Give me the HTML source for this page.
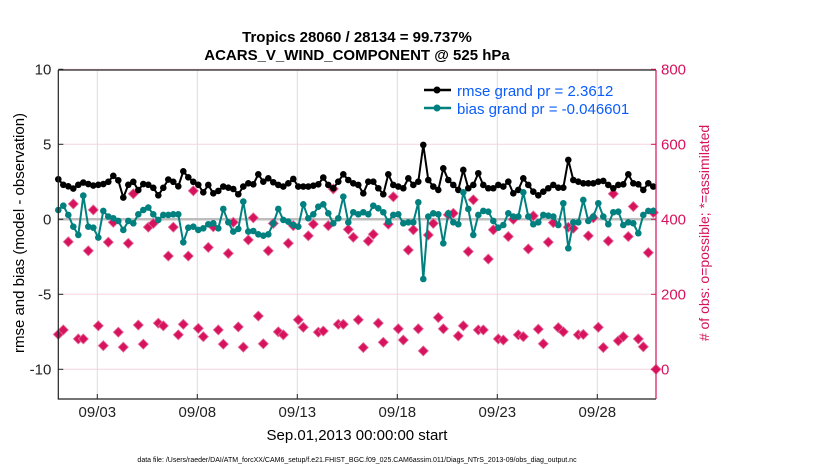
<!DOCTYPE html>
<html><head><meta charset="utf-8">
<style>
body{margin:0;background:#fff;}
svg text{font-family:"Liberation Sans",Arial,sans-serif;}
</style></head>
<body>
<svg id="chart" width="830" height="470" viewBox="0 0 830 470" xmlns="http://www.w3.org/2000/svg">
<rect x="0" y="0" width="830" height="470" fill="#fff"/>
<text x="357" y="42" text-anchor="middle" font-size="15" font-weight="bold">Tropics 28060 / 28134 = 99.737%</text>
<text x="357" y="60" text-anchor="middle" font-size="15" font-weight="bold">ACARS_V_WIND_COMPONENT @ 525 hPa</text>
<g id="grid"></g>
<g id="series"></g>
<g id="axes"></g>
<text transform="translate(24,233) rotate(-90)" text-anchor="middle" font-size="15">rmse and bias (model - observation)</text>
<text transform="translate(709,233) rotate(-90)" text-anchor="middle" font-size="14" fill="#d6135c"># of obs: o=possible; *=assimilated</text>
<text x="357" y="440" text-anchor="middle" font-size="15">Sep.01,2013 00:00:00 start</text>
<text x="357" y="462" text-anchor="middle" font-size="7">data file: /Users/raeder/DAI/ATM_forcXX/CAM6_setup/f.e21.FHIST_BGC.f09_025.CAM6assim.011/Diags_NTrS_2013-09/obs_diag_output.nc</text>
<g>
  <line x1="424" y1="90" x2="451" y2="90" stroke="#000" stroke-width="2.5"/>
  <circle cx="437" cy="90" r="3.5" fill="#000"/>
  <text x="457" y="96" font-size="15" fill="#0a5cff">rmse grand pr = 2.3612</text>
  <line x1="424" y1="108" x2="451" y2="108" stroke="#00807f" stroke-width="2.5"/>
  <circle cx="437" cy="108" r="3.5" fill="#00807f"/>
  <text x="457" y="114" font-size="15" fill="#0a5cff">bias grand pr = -0.046601</text>
</g>
</svg>
<script>
const xTickDays=[2,7,12,17,22,27];
const xTickLabels=["09/03","09/08","09/13","09/18","09/23","09/28"];
const leftTicks=[10,5,0,-5,-10];
const rightTicks=[800,600,400,200,0];
const rmse=[2.67,2.3,2.2,2.05,2.3,2.45,2.35,2.25,2.3,2.35,2.5,2.9,2.6,1.45,2.3,2.5,1.95,2.35,2.3,2.1,1.6,2.1,2.65,2.5,2.2,3.2,2.8,2.5,2.3,1.8,
2.29,1.73,1.89,2.18,2.11,2.02,1.67,2.18,2.4,2.33,3.0,2.51,2.73,2.47,2.29,2.18,2.4,2.69,2.18,2.18,2.18,2.24,2.33,2.78,2.29,2.07,2.51,3.0,2.62,2.4,
2.29,1.73,2.51,2.51,2.07,1.67,3.0,2.29,2.18,2.07,2.73,2.29,2.51,4.96,2.62,2.18,1.96,3.4,2.62,2.29,1.96,3.29,2.07,2.29,3.07,2.29,2.07,2.07,2.29,2.18,
2.51,1.73,1.96,2.73,2.29,1.84,1.6,1.84,2.07,2.29,2.11,2.11,3.96,2.62,2.51,2.4,2.4,2.4,2.51,2.56,2.29,2.07,2.29,2.33,3.0,2.4,2.33,1.96,2.4,2.18];
const bias=[0.62,0.91,0.29,-0.49,-1.04,1.58,-0.49,-0.56,-1.22,0.56,0.18,0.07,-0.11,-0.71,-0.11,-0.27,0.33,0.62,0.78,0.33,-0.04,0.29,0.29,0.33,0.33,-1.53,-0.56,-0.49,-0.71,-0.6,
-0.33,-0.27,-0.6,0.69,-0.2,-0.82,-0.64,1.18,-0.82,-0.78,-1.0,-1.09,-1.0,-0.27,0.69,-0.04,-0.16,-0.38,-0.49,1.0,0.07,0.33,0.84,1.0,0.4,-0.27,0.07,1.51,-0.2,0.47,
0.33,0.47,0.33,0.91,0.73,0.47,-0.16,0.29,0.33,-0.27,-0.2,-0.2,1.13,-3.98,0.18,0.4,0.33,-1.6,0.4,-0.2,-0.33,1.8,0.69,-1.04,0.29,0.56,0.51,-0.11,-0.56,-0.38,
0.4,0.18,0.18,1.8,0.18,-0.33,-0.2,0.29,0.24,0.18,-0.38,1.07,-1.93,-0.2,-0.2,1.29,-0.11,0.18,1.07,0.18,-0.33,0.47,0.51,-0.38,-0.2,-0.27,-0.93,0.29,0.56,0.56];
const nobs=[93,105,340,441,81,81,316,425,116,63,339,392,99,59,336,468,118,67,379,389,123,116,302,379,92,120,302,476,109,87,
325,380,105,67,309,392,113,59,345,404,142,68,316,389,100,92,336,383,132,112,356,387,99,102,383,481,120,120,373,352,
132,58,342,360,123,72,387,460,108,78,318,372,108,49,358,389,138,108,412,416,89,116,314,452,105,105,294,372,81,78,
354,400,92,87,321,409,107,68,339,391,111,100,379,376,92,93,356,404,112,58,342,468,76,87,354,434,81,60,311,418,0];

const NS="http://www.w3.org/2000/svg";
const X0=58.3, X1=656, Y0=70, Y1=399;
function xScale(day){return 57.3+20*day;}
function obsDay(i){return i*0.25+0.05;}
function yL(v){return 219.3-15*v;}
function yR(n){return yL(n/40-10);}
function mk(tag,attrs,parent){const e=document.createElementNS(NS,tag);for(const k in attrs)e.setAttribute(k,attrs[k]);parent.appendChild(e);return e;}
const grid=document.getElementById('grid'), axes=document.getElementById('axes'), ser=document.getElementById('series');

// grid
rightTicks.forEach(t=>{const l=mk('line',{x1:X0,x2:X1,y1:yR(t),y2:yR(t),stroke:'#f6d3df','stroke-width':1},grid);

});
xTickDays.forEach(d=>{const l=mk('line',{x1:xScale(d),x2:xScale(d),y1:Y0,y2:Y1,stroke:'#dcdcdc','stroke-width':1},grid);

});
const zl=mk('line',{x1:X0,x2:X1,y1:yL(0),y2:yL(0),stroke:'#bdbdbd','stroke-width':2.5},grid);



// rmse line
function poly(vals,color,name){
  const pts=vals.map((v,i)=>xScale(obsDay(i)).toFixed(1)+','+yL(v).toFixed(1)).join(' ');
  const p=mk('polyline',{points:pts,fill:'none',stroke:color,'stroke-width':2},ser);
  
  
  vals.forEach((v,i)=>{const c=mk('circle',{cx:xScale(obsDay(i)),cy:yL(v),r:3.3,fill:color},ser);
    
    });
}
// obs markers
nobs.forEach((n,i)=>{
  const x=Math.min(xScale(obsDay(i)),X1), y=yR(n);
  const d=`M${x},${y-5} L${x+5},${y} L${x},${y+5} L${x-5},${y} Z`;
  const m=mk('path',{d:d,fill:'#d6135c',stroke:'#e4699a','stroke-width':0.8},ser);
  
  
});
poly(rmse,'#000','rmse');
poly(bias,'#00807f','bias');

// axes
const la=mk('path',{d:`M${X0},${Y0} L${X0},${Y1} L${X1},${Y1} M${X0},${Y0} L${X1},${Y0}`,fill:'none',stroke:'#222','stroke-width':1.2},axes);


const ra=mk('line',{x1:X1,x2:X1,y1:Y0,y2:Y1,stroke:'#d6135c','stroke-width':1.2},axes);


leftTicks.forEach(t=>{
  const y=yL(t);
  const tk=mk('line',{x1:X0,x2:X0+5,y1:y,y2:y,stroke:'#222'},axes);
  
  
  const tx=mk('text',{x:X0-7,y:y+5,'text-anchor':'end','font-size':15,fill:'#222'},axes);
  tx.textContent=t;
  
  
});
rightTicks.forEach(t=>{
  const y=yR(t);
  const tk=mk('line',{x1:X1-5,x2:X1,y1:y,y2:y,stroke:'#d6135c'},axes);
  
  
  const tx=mk('text',{x:X1+5,y:y+5,'font-size':15,fill:'#d6135c'},axes);
  tx.textContent=t;
  
  
});
xTickDays.forEach((d,k)=>{
  const x=xScale(d);
  const tk=mk('line',{x1:x,x2:x,y1:Y1,y2:Y1-5,stroke:'#222'},axes);
  
  
  const tx=mk('text',{x:x,y:417,'text-anchor':'middle','font-size':15,fill:'#222'},axes);
  tx.textContent=xTickLabels[k];
  
  
});
</script>
</body></html>
